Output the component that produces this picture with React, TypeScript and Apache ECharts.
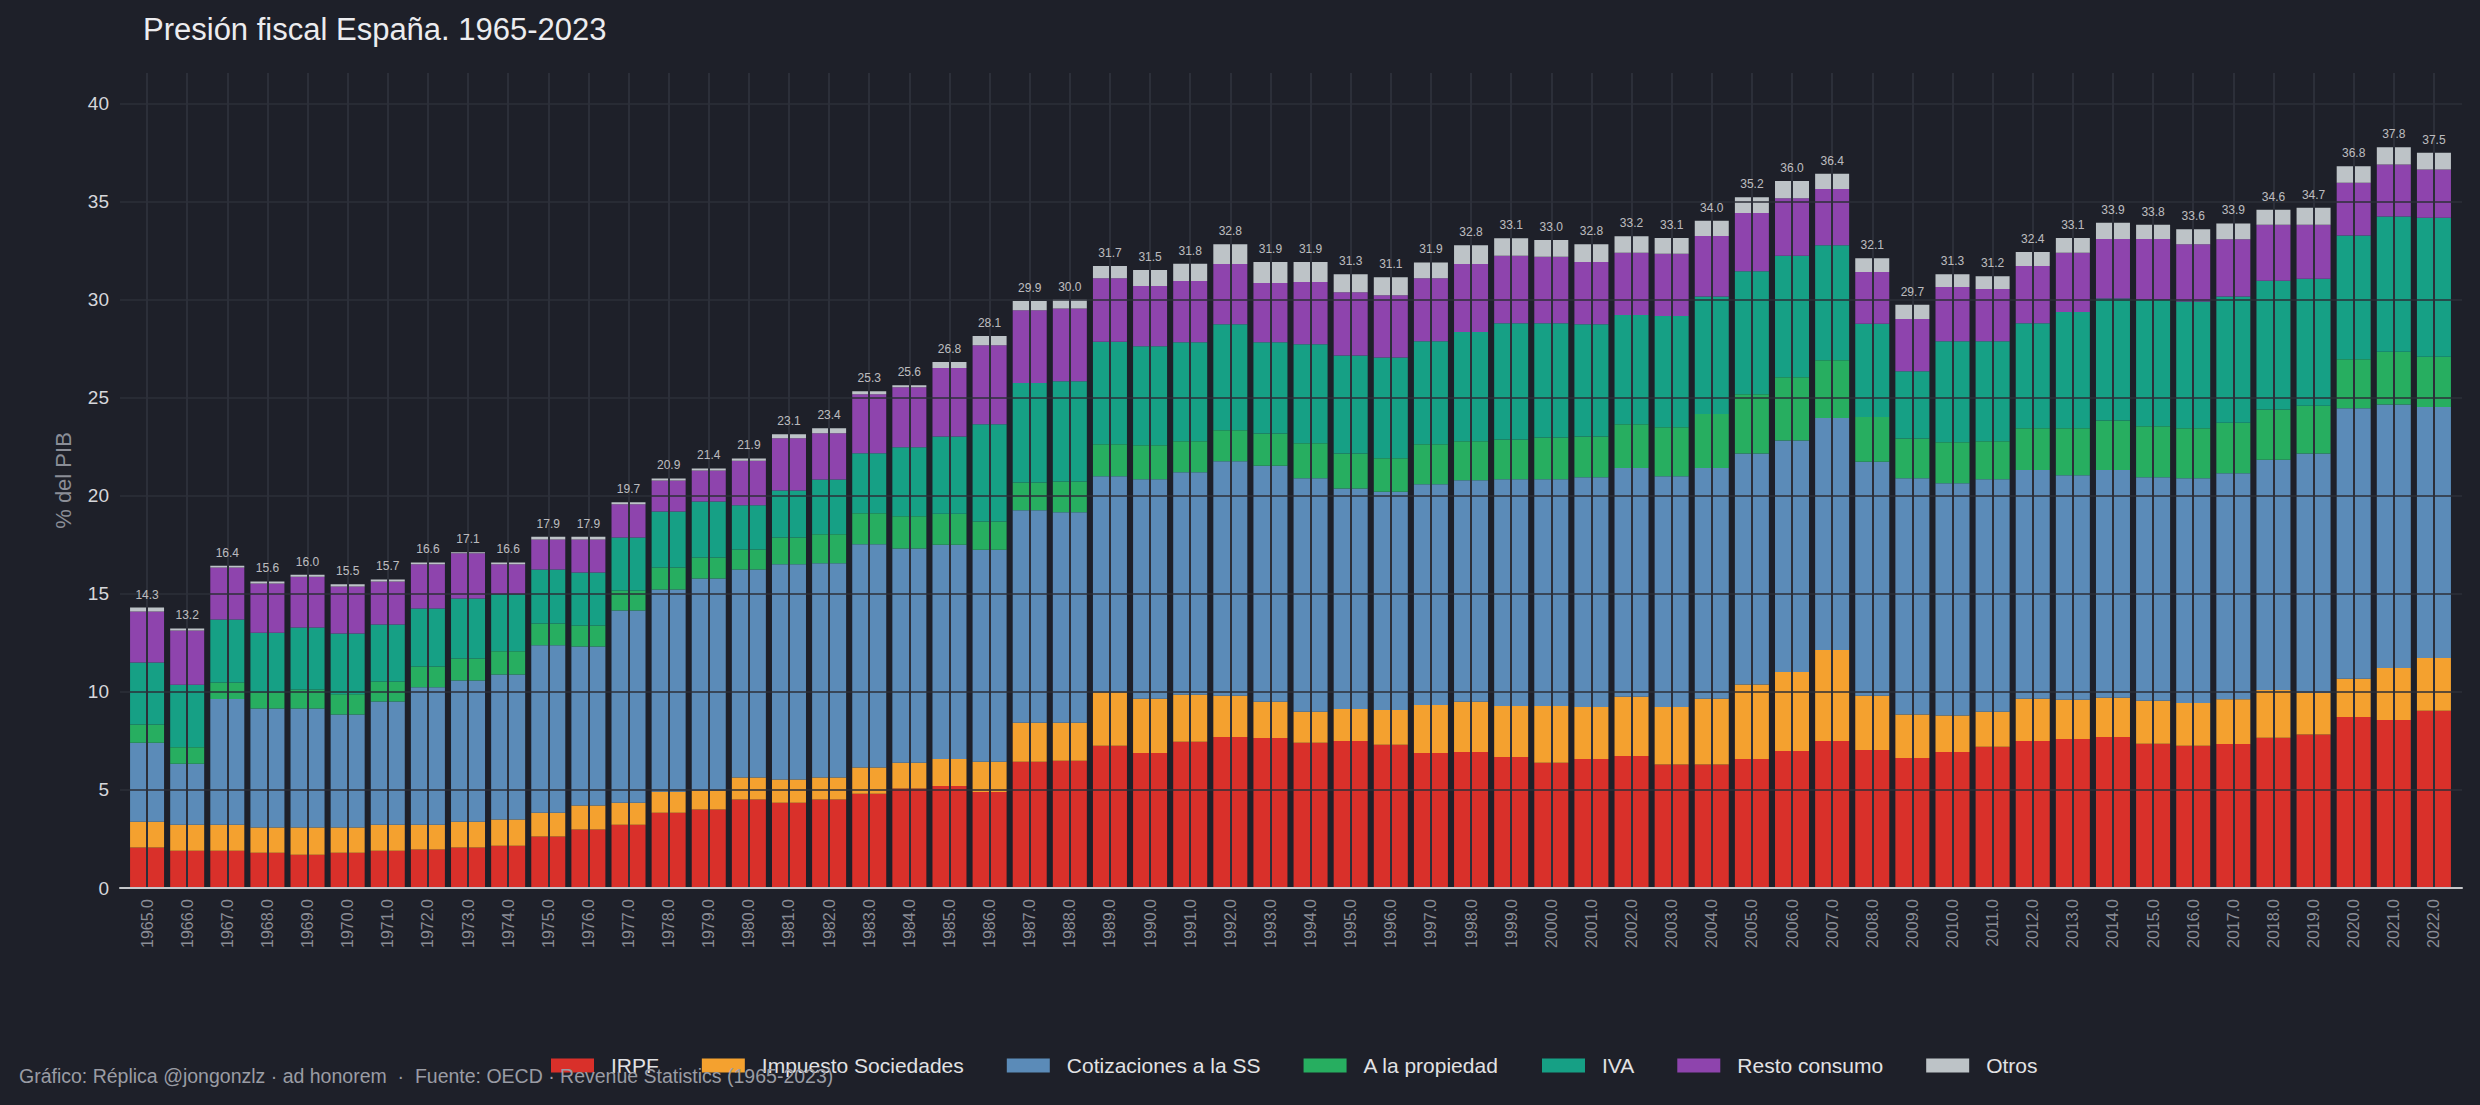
import React, { useEffect, useRef } from 'react';
import * as echarts from 'echarts';

// Categories (one per fiscal year)
const years = [
  '1965.0', '1966.0', '1967.0', '1968.0', '1969.0', '1970.0', '1971.0', '1972.0', '1973.0', '1974.0',
  '1975.0', '1976.0', '1977.0', '1978.0', '1979.0', '1980.0', '1981.0', '1982.0', '1983.0', '1984.0',
  '1985.0', '1986.0', '1987.0', '1988.0', '1989.0', '1990.0', '1991.0', '1992.0', '1993.0', '1994.0',
  '1995.0', '1996.0', '1997.0', '1998.0', '1999.0', '2000.0', '2001.0', '2002.0', '2003.0', '2004.0',
  '2005.0', '2006.0', '2007.0', '2008.0', '2009.0', '2010.0', '2011.0', '2012.0', '2013.0', '2014.0',
  '2015.0', '2016.0', '2017.0', '2018.0', '2019.0', '2020.0', '2021.0', '2022.0',
];

// Revenue by tax type, % of GDP
const irpf = [
  2.06, 1.90, 1.90, 1.80, 1.70, 1.80, 1.90, 1.96, 2.06, 2.16,
  2.62, 2.98, 3.23, 3.84, 4.00, 4.51, 4.35, 4.51, 4.81, 5.07,
  5.20, 4.90, 6.44, 6.49, 7.25, 6.88, 7.45, 7.70, 7.65, 7.40,
  7.50, 7.30, 6.88, 6.93, 6.68, 6.39, 6.58, 6.73, 6.29, 6.29,
  6.58, 6.98, 7.50, 7.03, 6.63, 6.93, 7.20, 7.50, 7.60, 7.70,
  7.35, 7.25, 7.34, 7.66, 7.82, 8.72, 8.56, 9.04,
];
const sociedades = [
  1.32, 1.33, 1.33, 1.28, 1.38, 1.28, 1.33, 1.27, 1.32, 1.33,
  1.22, 1.22, 1.12, 1.07, 0.97, 1.12, 1.18, 1.12, 1.33, 1.32,
  1.38, 1.54, 1.98, 1.93, 2.73, 2.77, 2.40, 2.10, 1.85, 1.59,
  1.63, 1.78, 2.45, 2.57, 2.60, 2.89, 2.65, 3.02, 2.94, 3.36,
  3.79, 4.03, 4.63, 2.77, 2.21, 1.86, 1.79, 2.15, 2.00, 2.00,
  2.20, 2.18, 2.28, 2.44, 2.12, 1.95, 2.66, 2.69,
];
const cotizaciones = [
  4.03, 3.11, 6.40, 6.07, 6.07, 5.76, 6.28, 7.01, 7.20, 7.39,
  8.54, 8.11, 9.80, 10.31, 10.81, 10.61, 10.97, 10.92, 11.38, 10.92,
  10.92, 10.81, 10.84, 10.74, 11.01, 11.19, 11.34, 11.96, 12.03, 11.90,
  11.24, 11.12, 11.26, 11.29, 11.56, 11.56, 11.71, 11.66, 11.76, 11.76,
  11.78, 11.81, 11.83, 11.93, 12.05, 11.85, 11.85, 11.66, 11.44, 11.61,
  11.39, 11.46, 11.53, 11.73, 12.21, 13.79, 13.43, 12.79,
];
const propiedad = [
  0.92, 0.84, 0.85, 0.83, 0.97, 1.04, 1.02, 1.05, 1.12, 1.19,
  1.11, 1.07, 1.02, 1.12, 1.07, 1.02, 1.37, 1.48, 1.58, 1.64,
  1.58, 1.44, 1.41, 1.56, 1.63, 1.73, 1.58, 1.58, 1.64, 1.78,
  1.78, 1.71, 2.03, 1.98, 2.03, 2.13, 2.08, 2.23, 2.50, 2.75,
  3.02, 3.22, 2.95, 2.28, 2.03, 2.08, 1.93, 2.13, 2.40, 2.53,
  2.60, 2.55, 2.57, 2.56, 2.43, 2.50, 2.69, 2.56,
];
const iva = [
  3.17, 3.18, 3.21, 3.03, 3.16, 3.10, 2.91, 2.96, 3.06, 2.90,
  2.75, 2.71, 2.70, 2.86, 2.86, 2.25, 2.40, 2.80, 3.06, 3.52,
  3.94, 4.95, 5.07, 5.12, 5.23, 5.05, 5.05, 5.40, 4.65, 5.05,
  5.00, 5.14, 5.25, 5.57, 5.92, 5.82, 5.72, 5.57, 5.67, 5.99,
  6.27, 6.19, 5.86, 4.75, 3.42, 5.15, 5.10, 5.35, 5.92, 6.21,
  6.46, 6.46, 6.44, 6.57, 6.48, 6.31, 6.89, 7.09,
];
const restoConsumo = [
  2.60, 2.77, 2.65, 2.52, 2.59, 2.39, 2.19, 2.25, 2.30, 1.53,
  1.53, 1.68, 1.69, 1.58, 1.58, 2.27, 2.66, 2.35, 3.01, 3.06,
  3.49, 4.03, 3.72, 3.71, 3.24, 3.07, 3.12, 3.07, 3.02, 3.17,
  3.22, 3.17, 3.22, 3.47, 3.44, 3.39, 3.17, 3.17, 3.17, 3.09,
  2.97, 2.94, 2.87, 2.65, 2.67, 2.77, 2.67, 2.92, 3.02, 3.04,
  3.09, 2.92, 2.92, 2.85, 2.75, 2.69, 2.66, 2.46,
];
const otros = [
  0.20, 0.10, 0.09, 0.10, 0.10, 0.11, 0.10, 0.10, 0.06, 0.10,
  0.14, 0.14, 0.10, 0.10, 0.10, 0.12, 0.20, 0.26, 0.15, 0.10,
  0.30, 0.47, 0.47, 0.45, 0.62, 0.82, 0.88, 1.01, 1.07, 1.02,
  0.92, 0.92, 0.80, 0.96, 0.90, 0.85, 0.91, 0.85, 0.81, 0.78,
  0.80, 0.87, 0.77, 0.69, 0.72, 0.65, 0.65, 0.72, 0.76, 0.82,
  0.72, 0.77, 0.80, 0.77, 0.87, 0.83, 0.87, 0.86,
];

const seriesNames = [
  'IRPF',
  'Impuesto Sociedades',
  'Cotizaciones a la SS',
  'A la propiedad',
  'IVA',
  'Resto consumo',
  'Otros',
];
const seriesValues = [irpf, sociedades, cotizaciones, propiedad, iva, restoConsumo, otros];
const seriesColors = ['#d9302a', '#f4a12f', '#5b8bb8', '#27ae60', '#16a085', '#8e44ad', '#bdc3c7'];

const FONT = "'Liberation Sans', Arial, Helvetica, sans-serif";
const BG = '#1e2029';
const GRID_LINE = '#2c2f39';
const Y_MAX = 41.55;

export default function App() {
  const ref = useRef<HTMLDivElement>(null);

  useEffect(() => {
    document.body.style.margin = '0';
    document.body.style.background = BG;
    if (!ref.current) return;
    const chart = echarts.init(ref.current, undefined, { renderer: 'svg' });

    // stacked total per year, used for the labels above each bar
    const totals = years.map((_, i) => seriesValues.reduce((s, arr) => s + arr[i], 0));

    const barSeries = seriesNames.map((name, k) => {
      const s: any = {
        name,
        type: 'bar',
        stack: 'total',
        xAxisIndex: 0,
        yAxisIndex: 0,
        barWidth: 34,
        data: seriesValues[k],
        itemStyle: { color: seriesColors[k] },
        emphasis: { disabled: true },
        z: 2,
      };
      if (k === 0) {
        // vertical grid lines at each category centre, drawn over the bars
        s.markLine = {
          silent: true,
          symbol: ['none', 'none'],
          label: { show: false },
          z: 5,
          lineStyle: { color: GRID_LINE, width: 2, type: 'solid' },
          emphasis: { disabled: true },
          data: years.map((_, i) => ({ xAxis: i })),
        };
      }
      return s;
    });

    chart.setOption({
      animation: false,
      backgroundColor: BG,
      textStyle: { fontFamily: FONT },
      title: {
        text: 'Presión fiscal España. 1965-2023',
        left: 143,
        top: 14,
        padding: 0,
        textStyle: { color: '#ececef', fontSize: 31, fontWeight: 'normal', fontFamily: FONT },
      },
      legend: {
        data: seriesNames,
        left: 546,
        top: 1050,
        icon: 'rect',
        itemWidth: 43,
        itemHeight: 14,
        itemGap: 43,
        selectedMode: false,
        textStyle: { color: '#e2e2e4', fontSize: 21, fontFamily: FONT, padding: [0, 0, 0, 12] },
      },
      grid: [
        { left: 127, right: 26, top: 73, bottom: 217 },
        { left: 120, right: 18, top: 73, bottom: 217 },
      ],
      xAxis: [
        {
          gridIndex: 0,
          type: 'category',
          data: years,
          axisLine: { show: false },
          axisTick: { show: false },
          splitLine: { show: false },
          axisLabel: {
            interval: 0,
            rotate: 90,
            fontSize: 16,
            color: '#8b8e97',
            margin: 11,
            fontFamily: FONT,
          },
        },
        {
          gridIndex: 1,
          type: 'value',
          min: 0,
          max: 1,
          z: 5,
          axisLine: { show: true, lineStyle: { color: '#c6c7ca', width: 2 } },
          axisTick: { show: false },
          axisLabel: { show: false },
          splitLine: { show: false },
        },
      ],
      yAxis: [
        {
          gridIndex: 0,
          type: 'value',
          min: 0,
          max: Y_MAX,
          show: false,
          splitLine: { show: false },
        },
        {
          gridIndex: 1,
          type: 'value',
          min: 0,
          max: Y_MAX,
          interval: 5,
          z: 5,
          axisLine: { show: false },
          axisTick: { show: false },
          axisLabel: {
            color: '#d6d7db',
            fontSize: 19,
            margin: 11,
            showMaxLabel: false,
            fontFamily: FONT,
          },
          splitLine: {
            show: true,
            showMaxLine: false,
            lineStyle: { color: GRID_LINE, width: 1.5 },
          },
          name: '% del PIB',
          nameLocation: 'middle',
          nameGap: 46,
          nameTextStyle: { color: '#8b8e97', fontSize: 22, fontFamily: FONT },
        },
      ],
      graphic: [
        {
          type: 'text',
          left: 19,
          top: 1066,
          style: {
            text: 'Gráfico: Réplica @jongonzlz · ad honorem  ·  Fuente: OECD · Revenue Statistics (1965-2023)',
            fill: '#9a9ca4',
            fontSize: 19.5,
            fontFamily: FONT,
          },
          z: 20,
        },
      ],
      series: [
        ...barSeries,
        {
          name: 'total',
          type: 'scatter',
          xAxisIndex: 0,
          yAxisIndex: 0,
          symbolSize: 0,
          silent: true,
          z: 10,
          data: totals,
          label: {
            show: true,
            position: 'top',
            distance: 7,
            color: '#e6e6e8',
            fontSize: 12,
            fontFamily: FONT,
            formatter: (p: any) => Number(p.value).toFixed(1),
          },
        },
        {
          type: 'line',
          xAxisIndex: 1,
          yAxisIndex: 1,
          data: [],
          silent: true,
        },
      ],
    });

    return () => chart.dispose();
  }, []);

  return (
    <div
      ref={ref}
      style={{ position: 'absolute', left: 0, top: 0, width: 2480, height: 1105 }}
    />
  );
}
